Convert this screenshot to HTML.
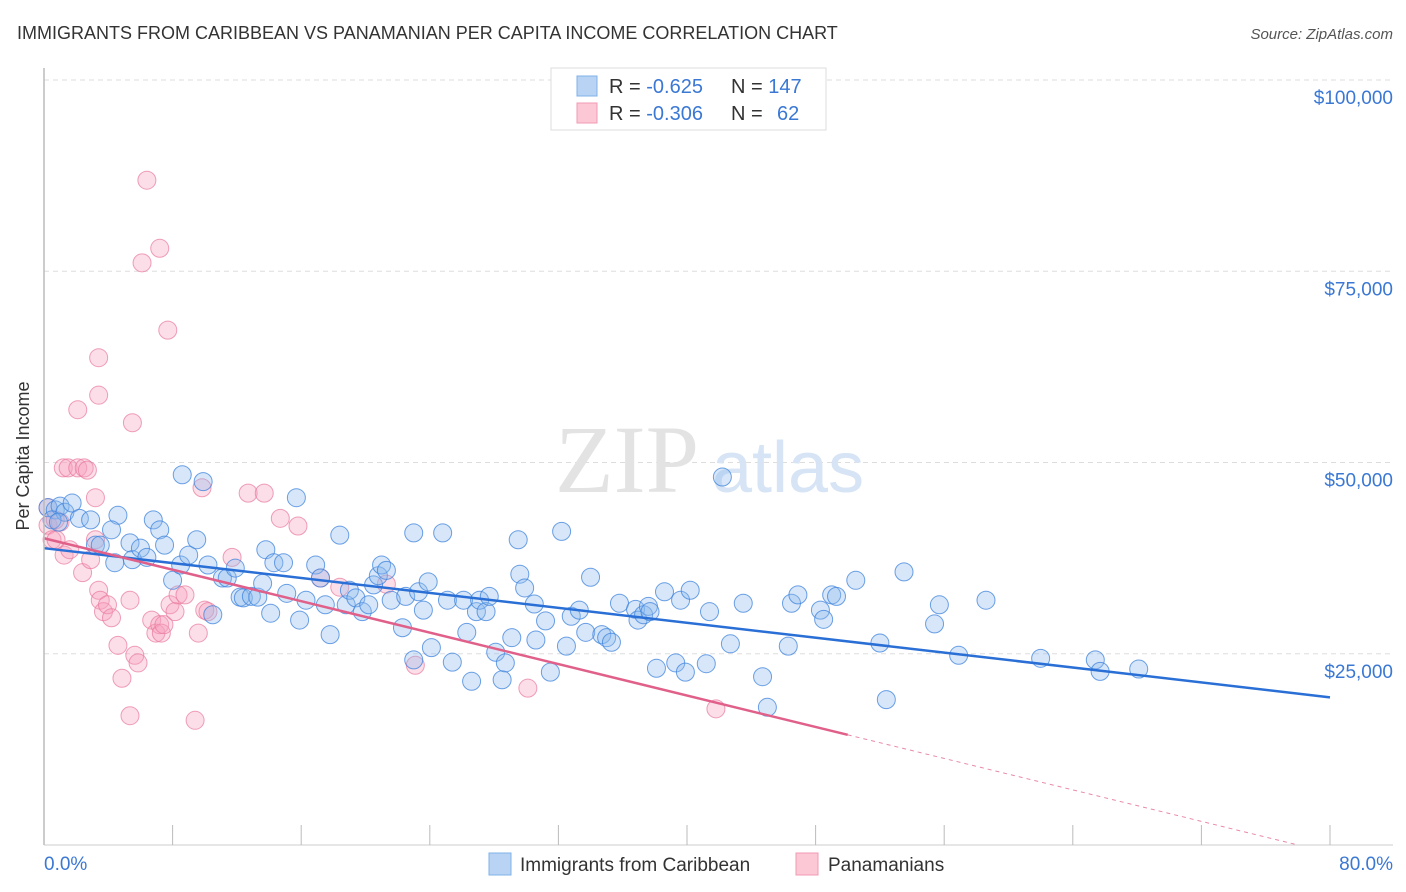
<!DOCTYPE html>
<html><head><meta charset="utf-8"><style>
body{margin:0;background:#fff;font-family:"Liberation Sans",sans-serif;}
svg{display:block}
</style></head><body>
<svg id="chart" width="1406" height="892">
<text x="17" y="39" font-size="18" fill="#333">IMMIGRANTS FROM CARIBBEAN VS PANAMANIAN PER CAPITA INCOME CORRELATION CHART</text>
<text x="1393" y="39" font-size="15" fill="#555" font-style="italic" text-anchor="end">Source: ZipAtlas.com</text>
<g id="grid"></g>
<text x="555" y="492" font-size="96" font-family="Liberation Serif,serif" fill="#e3e3e3">ZIP</text>
<text x="712" y="492" font-size="72" fill="#d6e4f5">atlas</text>
<g id="pts"></g>
<g id="trend"></g>
<line x1="44" y1="68" x2="44" y2="845" stroke="#bbb" stroke-width="1.5"/>
<line x1="44" y1="845" x2="1393" y2="845" stroke="#ccc"/>
<g id="axes"></g>
<text x="29" y="456" font-size="18" fill="#333" text-anchor="middle" transform="rotate(-90 29 456)">Per Capita Income</text>
<g>
<rect x="551" y="68" width="275" height="62" fill="#fff" stroke="#ddd"/>
<rect x="577" y="76" width="20" height="20" fill="#b8d3f3" stroke="#7fb0e8"/>
<rect x="577" y="103" width="20" height="20" fill="#fcc8d6" stroke="#f09ab3"/>
<text x="609" y="93" font-size="20" fill="#333">R = <tspan fill="#3a78d4">-0.625</tspan><tspan x="731">N = </tspan><tspan fill="#3a78d4">147</tspan></text>
<text x="609" y="120" font-size="20" fill="#333">R = <tspan fill="#3a78d4">-0.306</tspan><tspan x="731">N = </tspan><tspan x="777" fill="#3a78d4">62</tspan></text>
</g>
<g>
<rect x="489" y="853" width="22" height="22" fill="#b8d3f3" stroke="#7fb0e8"/>
<text x="520" y="871" font-size="19" fill="#333">Immigrants from Caribbean</text>
<rect x="796" y="853" width="22" height="22" fill="#fcc8d6" stroke="#f09ab3"/>
<text x="828" y="871" font-size="19" fill="#333">Panamanians</text>
</g>
</svg>
<script>
const yTicks=[25,50,75,100];
const yTickLabels=["$25,000","$50,000","$75,000","$100,000"];
const xTickCount=10;
const xEndLabels=["0.0%","80.0%"];
const blueX=[0.25,0.7,1.0,1.3,1.75,2.2,0.5,0.9,2.9,3.2,3.5,4.6,4.2,4.4,5.35,5.5,6.0,6.4,6.8,7.2,7.5,8.0,8.5,8.6,9.0,9.5,9.9,10.2,10.5,11.1,11.4,11.9,12.2,12.4,12.9,13.3,13.6,13.8,14.1,14.3,14.9,15.1,15.7,15.9,16.3,16.9,17.2,17.5,17.8,18.4,18.8,19.0,19.4,19.8,20.2,20.5,20.8,21.0,21.3,21.6,22.3,22.5,23.0,23.0,23.3,23.6,23.9,24.1,24.8,25.1,25.4,26.1,26.3,26.6,26.9,27.1,27.5,27.7,28.1,28.5,28.7,29.1,29.5,29.6,29.9,30.5,30.6,31.2,31.5,32.2,32.5,32.8,33.3,33.7,34.0,34.7,35.0,35.3,35.8,36.8,36.95,37.3,37.6,37.7,38.1,38.6,39.3,39.6,39.9,40.2,41.2,41.4,42.2,42.7,43.5,44.7,45.0,46.3,46.5,46.9,48.3,48.5,49.0,49.3,50.5,52.0,52.4,53.5,55.4,55.7,56.9,58.6,62.0,65.4,65.7,68.1];
const blueY=[44.1,43.8,44.3,43.5,44.7,42.7,42.5,42.2,42.5,39.2,39.2,43.1,41.2,36.9,39.5,37.3,38.8,37.6,42.5,41.2,39.2,34.6,36.6,48.4,37.9,39.9,47.5,36.6,30.1,34.9,34.9,36.2,32.4,32.3,32.5,32.4,34.2,38.6,30.3,36.9,36.9,32.9,45.4,29.4,32.0,36.6,34.9,31.4,27.5,40.5,31.4,33.3,32.3,30.5,31.4,34.0,35.2,36.6,35.9,32.0,28.4,32.5,24.2,40.8,33.1,30.7,34.4,25.8,40.8,32.0,23.9,32.0,27.8,21.4,30.5,32.0,30.5,32.5,25.2,21.6,23.8,27.1,39.9,35.4,33.6,31.5,26.8,29.3,22.6,41.0,26.0,29.9,30.7,27.8,35.0,27.5,27.1,26.5,31.6,30.8,29.4,30.1,31.2,30.5,23.1,33.1,23.8,32.0,22.6,33.3,23.7,30.5,48.1,26.3,31.6,22.0,18.0,26.0,31.6,32.7,30.7,29.5,32.7,32.5,34.6,26.4,19.0,35.7,28.9,31.4,24.8,32.0,24.4,24.2,22.7,23.0];
const pinkX=[0.25,0.5,0.7,1.0,1.25,1.6,1.2,1.5,2.1,2.5,2.7,2.1,3.2,3.4,3.4,2.4,2.9,3.4,3.5,3.7,3.95,4.2,4.6,4.85,5.35,5.35,5.5,5.65,5.85,6.1,6.4,6.7,6.96,7.2,7.2,7.3,7.46,7.7,7.84,8.15,8.34,8.77,9.4,9.6,9.83,10.0,10.2,11.7,12.7,13.7,14.7,15.8,17.2,18.4,21.3,23.1,30.1,41.8,3.2,0.25,0.75];
const pinkY=[41.8,39.9,42.5,42.2,37.9,38.6,49.3,49.3,49.3,49.3,49.0,56.9,45.4,58.8,63.7,35.6,37.3,33.3,32.0,30.5,31.4,29.7,26.1,21.8,16.9,32.0,55.2,24.8,23.8,76.1,86.9,29.4,27.7,78.0,28.8,27.7,28.8,67.3,31.4,30.5,32.7,32.7,16.3,27.7,46.7,30.7,30.5,37.6,46.0,46.0,42.7,41.7,34.9,33.7,34.1,23.5,20.5,17.8,39.9,44.1,39.9];
const trendBlue=[38.8,19.3];
const trendPink=[40.1,14.4];
const pinkSolidEnd=50;
const NS='http://www.w3.org/2000/svg';
const X0=44,X1=1330,Y0=845,Y100=80;
const sx=v=>X0+(v/80)*(X1-X0);
const sy=v=>Y0-(v/100)*(Y0-Y100);
function mk(tag,attrs,parent){const e=document.createElementNS(NS,tag);for(const k in attrs)e.setAttribute(k,attrs[k]);parent.appendChild(e);return e;}
const grid=document.getElementById('grid'),axes=document.getElementById('axes');
yTicks.forEach((t,i)=>{
  const g=mk('line',{x1:44,x2:1393,y1:sy(t),y2:sy(t),stroke:'#ddd','stroke-dasharray':'5,4'},grid);
  
  
  const l=mk('text',{x:1393,y:sy(t)+24,'font-size':19,fill:'#3a78d4','text-anchor':'end'},axes);
  l.textContent=yTickLabels[i];
  
  
});
for(let i=0;i<=xTickCount;i++){
  const x=sx(i*8);
  const t=mk('line',{x1:x,x2:x,y1:825,y2:845,stroke:'#bbb'},axes);
  
  
}
const xl0=mk('text',{x:44,y:870,'font-size':19,fill:'#3a78d4'},axes);xl0.textContent=xEndLabels[0];


const xl1=mk('text',{x:1393,y:870,'font-size':19,fill:'#3a78d4','text-anchor':'end'},axes);xl1.textContent=xEndLabels[1];


const pts=document.getElementById('pts');
pinkX.forEach((x,i)=>{
  const c=mk('circle',{cx:sx(x),cy:sy(pinkY[i]),r:9,fill:'rgba(246,160,188,0.35)',stroke:'rgba(232,120,155,0.7)','stroke-width':1},pts);
  
  
});
blueX.forEach((x,i)=>{
  const c=mk('circle',{cx:sx(x),cy:sy(blueY[i]),r:9,fill:'rgba(140,185,238,0.35)',stroke:'rgba(60,130,220,0.75)','stroke-width':1},pts);
  
  
});
const tr=document.getElementById('trend');
const bl=mk('line',{x1:sx(0),y1:sy(trendBlue[0]),x2:sx(80),y2:sy(trendBlue[1]),stroke:'#2a6fd6','stroke-width':2.5},tr);


const pv=x=>trendPink[0]+(trendPink[1]-trendPink[0])*x/pinkSolidEnd;
const pl=mk('line',{x1:sx(0),y1:sy(pv(0)),x2:sx(pinkSolidEnd),y2:sy(pv(pinkSolidEnd)),stroke:'#e0608a','stroke-width':2.5},tr);


let xe=80; if(pv(80)<0){xe=-trendPink[0]*pinkSolidEnd/(trendPink[1]-trendPink[0]);}
const pd=mk('line',{x1:sx(pinkSolidEnd),y1:sy(pv(pinkSolidEnd)),x2:sx(xe),y2:sy(pv(xe)),stroke:'#e88aa8','stroke-width':1,'stroke-dasharray':'4,4'},tr);


</script>
</body></html>
